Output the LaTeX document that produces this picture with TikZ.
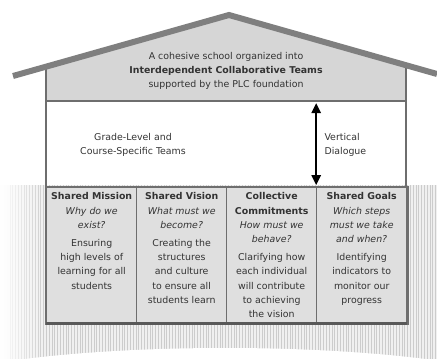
\documentclass[tikz,border=0pt]{standalone}
\usepackage{fontspec}
\setmainfont{DejaVu Sans}
\usetikzlibrary{arrows.meta,fadings}

\definecolor{roofgray}{HTML}{7F7F7F}
\definecolor{wallgray}{HTML}{6E6E6E}
\definecolor{atticgray}{HTML}{D6D6D6}
\definecolor{cellgray}{HTML}{DFDFDF}
\definecolor{textgray}{HTML}{333333}

% one pillar: title, question, answer, top aligned
\newcommand\pillarbox[3]{\parbox[t][131pt][t]{88pt}{\centering\strut\textbf{#1}\\\textit{#2}\\[3.5pt]#3}}

\begin{document}
\begin{tikzpicture}[x=1pt,y=-1pt,
    every node/.style={text=textgray,font=\fontsize{9.4}{14.3}\selectfont},
    wall/.style={draw=wallgray,line width=2.5pt},
    pillar/.style={draw=wallgray,line width=1pt,fill=cellgray,inner xsep=0pt,inner ysep=2pt,
      anchor=north,minimum width=90pt}]
  \useasboundingbox (0,0) rectangle (437,359);

  % striped ground
  \begin{scope}
    \clip (0,185) rectangle (437,359);
    \fill[gray!12] (0,185) rectangle (437,359);
    \foreach \x in {10,12.8,...,437}
      \draw[gray!40,line width=0.9pt] (\x,185) -- (\x,359);
    \fill[white] (225,398) ellipse [x radius=320,y radius=50];
    \fill[white,path fading=east] (0,180) rectangle (45,360);
  \end{scope}

  % attic, walls and roof
  \coordinate (floor) at (46,101);
  \fill[atticgray] (46,66.7) -- (229,15) -- (406,65.3) -- (406,101) -- (46,101) -- cycle;
  \draw[wall] (46,66) -- (46,187) (406,65) -- (406,187) (floor) -- (406,101);
  \draw[roofgray,line width=6pt] (13,76) -- (229,15) -- (437,74);

  \node[align=center] (school) at (226,71)
    {A cohesive school organized into\\\textbf{Interdependent Collaborative Teams}\\supported by the PLC foundation};
  \node[align=center] (teams) at (133,145) {Grade-Level and\\Course-Specific Teams};
  \node[align=left,anchor=west] (dialogue) at (321,145) {Vertical\\Dialogue};

  % the four pillars
  \matrix (pillars) at (46,187) [anchor=north west,column sep=-1pt,inner sep=0pt,nodes=pillar]
  {
    \node (mission) {\pillarbox{Shared Mission}{Why do we\\exist?}{Ensuring\\high levels of\\learning for all\\students}}; &
    \node (vision) {\pillarbox{Shared Vision}{What must we\\become?}{Creating the\\structures\\and culture\\to ensure all\\students learn}}; &
    \node (commit) {\pillarbox{Collective\\Commitments}{How must we\\behave?}{Clarifying how\\each individual\\will contribute\\to achieving\\the vision}}; &
    \node (goals) {\pillarbox{Shared Goals}{Which steps\\must we take\\and when?}{Identifying\\indicators to\\monitor our\\progress}}; \\
  };
  \draw[wall] (pillars.north west) rectangle (pillars.south east);
  \draw[black!65,line width=3pt] (pillars.south west) -- (pillars.south east);

  \draw[{Triangle[length=10pt,width=9pt]}-{Triangle[length=10pt,width=9pt]},line width=2.5pt,
    shorten <=2pt,shorten >=2pt] (goals.north west |- floor) -- (goals.north west);
\end{tikzpicture}
\end{document}
